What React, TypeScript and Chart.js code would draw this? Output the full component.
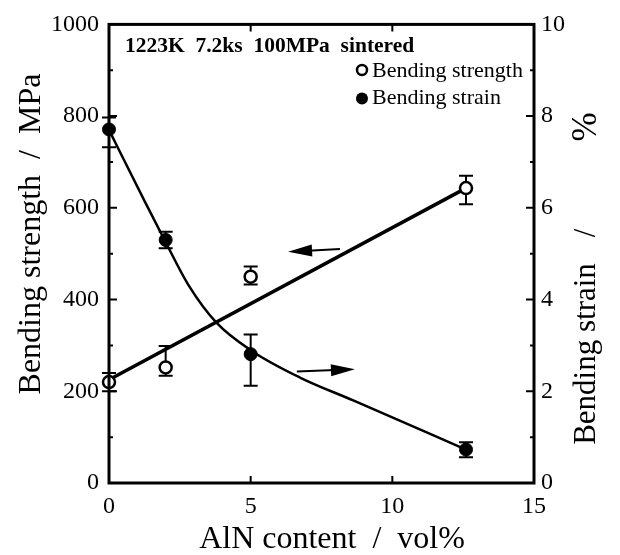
import React, { useEffect, useRef } from "react";
import { Chart, registerables } from "chart.js";
Chart.register(...registerables);

// ---- data ----
const alnContent = [0, 2, 5, 12.6];
const bendingStrength = [220, 252, 450, 643];
const strengthErrUp = [20, 47, 22, 27];
const strengthErrDown = [20, 18, 17, 35];
const bendingStrain = [7.71, 5.3, 2.81, 0.73];
const strainErrUp = [0.26, 0.18, 0.43, 0.16];
const strainErrDown = [0.39, 0.18, 0.69, 0.17];
const strengthFitX = [0, 12.6];
const strengthFitY = [225, 643];
const strainFitX = [0, 1.27, 2, 2.8, 3.8, 5.04, 6.74, 8.62, 12.6];
const strainFitY = [7.7, 6.13, 5.25, 4.32, 3.49, 2.88, 2.3, 1.8, 0.73];
const xTicks = [0, 5, 10, 15];
const strengthTicks = [0, 200, 400, 600, 800, 1000];
const strainTicks = [0, 2, 4, 6, 8, 10];
const conditionLabel = "1223K  7.2ks  100MPa  sintered";
const seriesLabels = ["Bending strength", "Bending strain"];
const xTitle = "AlN content  /  vol%";
const yTitle = "Bending strength  /  MPa";
const y2TitleParts = ["Bending strain", "/", "%"];
// arrow annotations in data units: [x tail, y tail, x tip, y tip]
const strengthArrow = [8.15, 510, 6.32, 504];
const strainArrow = [6.63, 2.43, 8.68, 2.48];

const FONT = '"Liberation Serif", "Times New Roman", serif';

const zip = (xs: number[], ys: number[]) => xs.map((x, i) => ({ x, y: ys[i] }));

function drawArrow(ctx: CanvasRenderingContext2D, x1: number, y1: number, x2: number, y2: number) {
  const ang = Math.atan2(y2 - y1, x2 - x1);
  const L = 24, W = 6;
  ctx.beginPath();
  ctx.moveTo(x1, y1);
  ctx.lineTo(x2 - Math.cos(ang) * (L - 4), y2 - Math.sin(ang) * (L - 4));
  ctx.stroke();
  ctx.beginPath();
  ctx.moveTo(x2, y2);
  ctx.lineTo(x2 - Math.cos(ang) * L - Math.sin(ang) * W, y2 - Math.sin(ang) * L + Math.cos(ang) * W);
  ctx.lineTo(x2 - Math.cos(ang) * L + Math.sin(ang) * W, y2 - Math.sin(ang) * L - Math.cos(ang) * W);
  ctx.closePath();
  ctx.fill();
}

const decor = {
  id: "decor",
  beforeDatasetsDraw(chart: any) {
    const ctx = chart.ctx as CanvasRenderingContext2D;
    const sx = chart.scales.x, sy = chart.scales.y, sy2 = chart.scales.y2;
    ctx.save();
    ctx.strokeStyle = "#000";
    ctx.lineWidth = 2;
    const cap = 7;
    const bars = (ys: number[], up: number[], dn: number[], sc: any) => {
      alnContent.forEach((xv, i) => {
        const px = sx.getPixelForValue(xv);
        const t = sc.getPixelForValue(ys[i] + up[i]);
        const b = sc.getPixelForValue(ys[i] - dn[i]);
        ctx.beginPath();
        ctx.moveTo(px, t); ctx.lineTo(px, b);
        ctx.moveTo(px - cap, t); ctx.lineTo(px + cap, t);
        ctx.moveTo(px - cap, b); ctx.lineTo(px + cap, b);
        ctx.stroke();
      });
    };
    bars(bendingStrength, strengthErrUp, strengthErrDown, sy);
    bars(bendingStrain, strainErrUp, strainErrDown, sy2);
    ctx.restore();
  },
  afterDraw(chart: any) {
    const ctx = chart.ctx as CanvasRenderingContext2D;
    const { left, right, top, bottom } = chart.chartArea;
    const sx = chart.scales.x, sy = chart.scales.y, sy2 = chart.scales.y2;
    ctx.save();
    ctx.strokeStyle = "#000";
    ctx.fillStyle = "#000";
    // frame
    ctx.lineWidth = 3;
    ctx.strokeRect(left, top, right - left, bottom - top);
    // inward ticks
    ctx.lineWidth = 2;
    ctx.beginPath();
    for (let v = 100; v < 1000; v += 100) {
      const p = sy.getPixelForValue(v);
      const len = v % 200 === 0 ? 8 : 4;
      ctx.moveTo(left, p); ctx.lineTo(left + len, p);
    }
    for (let v = 1; v < 10; v += 1) {
      const p = sy2.getPixelForValue(v);
      const len = v % 2 === 0 ? 8 : 4;
      ctx.moveTo(right, p); ctx.lineTo(right - len, p);
    }
    xTicks.slice(1, -1).forEach((v) => {
      const p = sx.getPixelForValue(v);
      ctx.moveTo(p, bottom); ctx.lineTo(p, bottom - 7);
      ctx.moveTo(p, top); ctx.lineTo(p, top + 7);
    });
    ctx.stroke();
    // arrows
    ctx.lineWidth = 2;
    drawArrow(ctx, sx.getPixelForValue(strengthArrow[0]), sy.getPixelForValue(strengthArrow[1]),
      sx.getPixelForValue(strengthArrow[2]), sy.getPixelForValue(strengthArrow[3]));
    drawArrow(ctx, sx.getPixelForValue(strainArrow[0]), sy2.getPixelForValue(strainArrow[1]),
      sx.getPixelForValue(strainArrow[2]), sy2.getPixelForValue(strainArrow[3]));
    // condition text
    ctx.textAlign = "left";
    ctx.textBaseline = "alphabetic";
    ctx.font = `bold 21.5px ${FONT}`;
    ctx.fillText(conditionLabel, 125, 52);
    // legend
    ctx.font = `22px ${FONT}`;
    ctx.lineWidth = 2.5;
    ctx.beginPath();
    ctx.fillStyle = "#fff";
    ctx.arc(362, 70, 5, 0, Math.PI * 2);
    ctx.fill(); ctx.stroke();
    ctx.fillStyle = "#000";
    ctx.beginPath();
    ctx.arc(362, 98.5, 6, 0, Math.PI * 2);
    ctx.fill();
    ctx.fillText(seriesLabels[0], 372, 77);
    ctx.fillText(seriesLabels[1], 372, 104);
    // axis titles
    ctx.font = `32px ${FONT}`;
    ctx.textAlign = "center";
    ctx.textBaseline = "middle";
    ctx.fillText(xTitle, 332, 540);
    ctx.save();
    ctx.translate(32, 234);
    ctx.rotate(-Math.PI / 2);
    ctx.fillText(yTitle, 0, 0);
    ctx.restore();
    ctx.save();
    ctx.translate(587, 0);
    ctx.rotate(-Math.PI / 2);
    ctx.font = `31px ${FONT}`;
    ctx.fillText(y2TitleParts[0], -354, 0);
    ctx.fillText(y2TitleParts[1], -233, 0);
    ctx.font = `35px ${FONT}`;
    ctx.fillText(y2TitleParts[2], -127, 0);
    ctx.restore();
    ctx.restore();
  },
};

export default function App() {
  const ref = useRef<HTMLCanvasElement | null>(null);
  useEffect(() => {
    if (!ref.current) return;
    Chart.defaults.font.family = FONT;
    Chart.defaults.color = "#000";
    const tickFont = { family: FONT, size: 24 };
    const plain = (v: any) => String(v);
    const chart = new Chart(ref.current, {
      type: "scatter",
      data: {
        datasets: [
          {
            label: seriesLabels[0],
            data: zip(alnContent, bendingStrength),
            yAxisID: "y",
            pointStyle: "circle",
            pointRadius: 6,
            pointBackgroundColor: "#fff",
            pointBorderColor: "#000",
            pointBorderWidth: 2.5,
            showLine: false,
            clip: false as any,
            order: 0,
          },
          {
            label: seriesLabels[1],
            data: zip(alnContent, bendingStrain),
            yAxisID: "y2",
            pointStyle: "circle",
            pointRadius: 6.5,
            pointBackgroundColor: "#000",
            pointBorderColor: "#000",
            pointBorderWidth: 1,
            showLine: false,
            clip: false as any,
            order: 0,
          },
          {
            label: "strength fit",
            data: zip(strengthFitX, strengthFitY),
            yAxisID: "y",
            showLine: true,
            pointRadius: 0,
            borderColor: "#000",
            borderWidth: 3.5,
            order: 1,
          },
          {
            label: "strain fit",
            data: zip(strainFitX, strainFitY),
            yAxisID: "y2",
            showLine: true,
            pointRadius: 0,
            borderColor: "#000",
            borderWidth: 2.5,
            cubicInterpolationMode: "monotone",
            order: 1,
          },
        ] as any,
      },
      options: {
        animation: false,
        responsive: false,
        devicePixelRatio: 1,
        events: [],
        layout: { padding: { top: 21, left: 0, right: 0, bottom: 0 } },
        plugins: { legend: { display: false }, tooltip: { enabled: false } },
        scales: {
          x: {
            type: "linear",
            position: "bottom",
            min: 0,
            max: 15,
            afterBuildTicks: (s: any) => { s.ticks = xTicks.map((v) => ({ value: v })); },
            afterFit: (s: any) => { s.height = 72; },
            grid: { display: false, drawTicks: false },
            border: { display: false },
            ticks: { font: tickFont, padding: 9, color: "#000", maxRotation: 0, callback: plain },
          },
          y: {
            type: "linear",
            position: "left",
            min: 0,
            max: 1000,
            afterBuildTicks: (s: any) => { s.ticks = strengthTicks.map((v) => ({ value: v })); },
            afterFit: (s: any) => { s.width = 109; },
            grid: { display: false, drawTicks: false },
            border: { display: false },
            ticks: { font: tickFont, padding: 10, color: "#000", callback: plain },
          },
          y2: {
            type: "linear",
            position: "right",
            min: 0,
            max: 10,
            afterBuildTicks: (s: any) => { s.ticks = strainTicks.map((v) => ({ value: v })); },
            afterFit: (s: any) => { s.width = 86; },
            grid: { display: false, drawTicks: false },
            border: { display: false },
            ticks: { font: tickFont, padding: 7, color: "#000", callback: plain },
          },
        },
      } as any,
      plugins: [decor],
    });
    return () => chart.destroy();
  }, []);
  return (
    <div style={{ position: "absolute", left: 0, top: 0, width: 620, height: 555, background: "#fff" }}>
      <canvas ref={ref} width={620} height={555} />
    </div>
  );
}
